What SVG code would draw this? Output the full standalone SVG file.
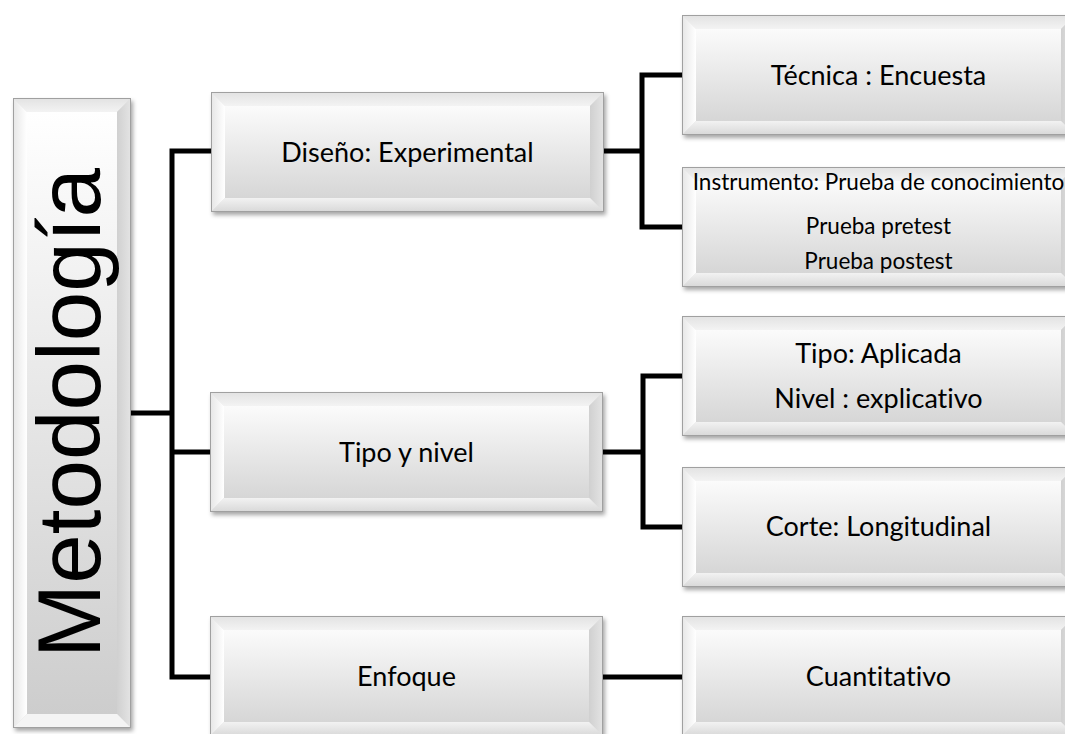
<svg xmlns="http://www.w3.org/2000/svg" xmlns:xlink="http://www.w3.org/1999/xlink" width="1065" height="734" viewBox="0 0 1065 734">
<defs>
  <style>
    .lbl { font-family: Lato, "Open Sans", "Liberation Sans", sans-serif; font-size: 27px; fill: #000; text-anchor: middle; font-variant-ligatures: none; }
    .sm { font-size: 22.5px; }
    .conn { fill: none; stroke: #000; stroke-width: 5; stroke-linecap: square; }
    .edge { stroke: #a0a0a0; stroke-width: 1; }
  </style>
  <linearGradient id="gFace" x1="0" y1="0" x2="0" y2="1">
    <stop offset="0" stop-color="#fbfbfb"/>
    <stop offset="1" stop-color="#d6d6d6"/>
  </linearGradient>
  <linearGradient id="gTop" x1="0" y1="0" x2="0" y2="1">
    <stop offset="0" stop-color="#e2e2e2"/>
    <stop offset="1" stop-color="#f3f3f3"/>
  </linearGradient>
  <linearGradient id="gLeft" x1="0" y1="0" x2="1" y2="0">
    <stop offset="0" stop-color="#e6e6e6"/>
    <stop offset="1" stop-color="#ffffff"/>
  </linearGradient>
  <linearGradient id="gRight" x1="0" y1="0" x2="1" y2="0">
    <stop offset="0" stop-color="#d0d0d0"/>
    <stop offset="1" stop-color="#e4e4e4"/>
  </linearGradient>
  <linearGradient id="gBot" x1="0" y1="0" x2="0" y2="1">
    <stop offset="0" stop-color="#f2f2f2"/>
    <stop offset="1" stop-color="#d8d8d8"/>
  </linearGradient>
  <filter id="sh" x="-10%" y="-10%" width="125%" height="130%">
    <feDropShadow dx="2" dy="3" stdDeviation="2" flood-color="#000" flood-opacity="0.35"/>
  </filter>
  <g id="box">
    <rect x="0" y="0" width="393" height="120" fill="#e0e0e0" filter="url(#sh)"/>
    <rect x="14" y="14" width="365" height="92" fill="url(#gFace)"/>
    <polygon points="0,0 393,0 379,14 14,14" fill="url(#gTop)"/>
    <polygon points="0,0 14,14 14,106 0,120" fill="url(#gLeft)"/>
    <polygon points="393,0 393,120 379,106 379,14" fill="url(#gRight)"/>
    <polygon points="0,120 14,106 379,106 393,120" fill="url(#gBot)"/>
    <rect x="0.5" y="0.5" width="392" height="119" fill="none" class="edge"/>
  </g>
  <linearGradient id="gFaceTall" x1="0" y1="0" x2="0" y2="1">
    <stop offset="0" stop-color="#ffffff"/>
    <stop offset="1" stop-color="#cdcdcd"/>
  </linearGradient>
</defs>

<g id="connectors">
  <path class="conn" d="M131,413 H172 M172,151 V677 M172,151 H211 M172,452 H210 M172,677 H210"/>
  <path class="conn" d="M603,151 H642 M642,75 V227 M642,75 H682 M642,227 H682"/>
  <path class="conn" d="M603,452 H643 M643,376 V527 M643,376 H682 M643,527 H682"/>
  <path class="conn" d="M603,677 H682"/>
</g>

<g id="metodologia">
  <rect x="13" y="98" width="118" height="630" fill="#e0e0e0" filter="url(#sh)"/>
  <rect x="27" y="112" width="90" height="602" fill="url(#gFaceTall)"/>
  <polygon points="13,98 131,98 117,112 27,112" fill="url(#gTop)"/>
  <polygon points="13,98 27,112 27,714 13,728" fill="url(#gLeft)"/>
  <polygon points="131,98 131,728 117,714 117,112" fill="url(#gRight)"/>
  <polygon points="13,728 27,714 117,714 131,728" fill="#f4f4f4"/>
  <rect x="13.5" y="98.5" width="117" height="629" fill="none" class="edge"/>
  <text transform="translate(100,413) rotate(-90)" text-anchor="middle" font-family="'Liberation Sans', Arial, sans-serif" font-size="89" fill="#000">Metodología</text>
</g>

<g id="diseno">
  <use xlink:href="#box" x="211" y="92"/>
  <text class="lbl" x="407.5" y="162">Diseño: Experimental</text>
</g>
<g id="tipo-nivel">
  <use xlink:href="#box" x="210" y="392"/>
  <text class="lbl" x="406.5" y="462">Tipo y nivel</text>
</g>
<g id="enfoque">
  <use xlink:href="#box" x="210" y="616"/>
  <text class="lbl" x="406.5" y="686">Enfoque</text>
</g>
<g id="tecnica">
  <use xlink:href="#box" x="682" y="15"/>
  <text class="lbl" x="878.5" y="85">Técnica : Encuesta</text>
</g>
<g id="instrumento">
  <use xlink:href="#box" x="682" y="167"/>
  <text class="lbl sm" x="878.5" y="190">Instrumento: Prueba de conocimiento</text>
  <text class="lbl sm" x="878.5" y="234">Prueba pretest</text>
  <text class="lbl sm" x="878.5" y="269">Prueba postest</text>
</g>
<g id="tipo-aplicada">
  <use xlink:href="#box" x="682" y="316"/>
  <text class="lbl" x="878.5" y="363">Tipo: Aplicada</text>
  <text class="lbl" x="878.5" y="408">Nivel : explicativo</text>
</g>
<g id="corte">
  <use xlink:href="#box" x="682" y="467"/>
  <text class="lbl" x="878.5" y="536">Corte: Longitudinal</text>
</g>
<g id="cuantitativo">
  <use xlink:href="#box" x="682" y="616"/>
  <text class="lbl" x="878.5" y="686">Cuantitativo</text>
</g>
</svg>
